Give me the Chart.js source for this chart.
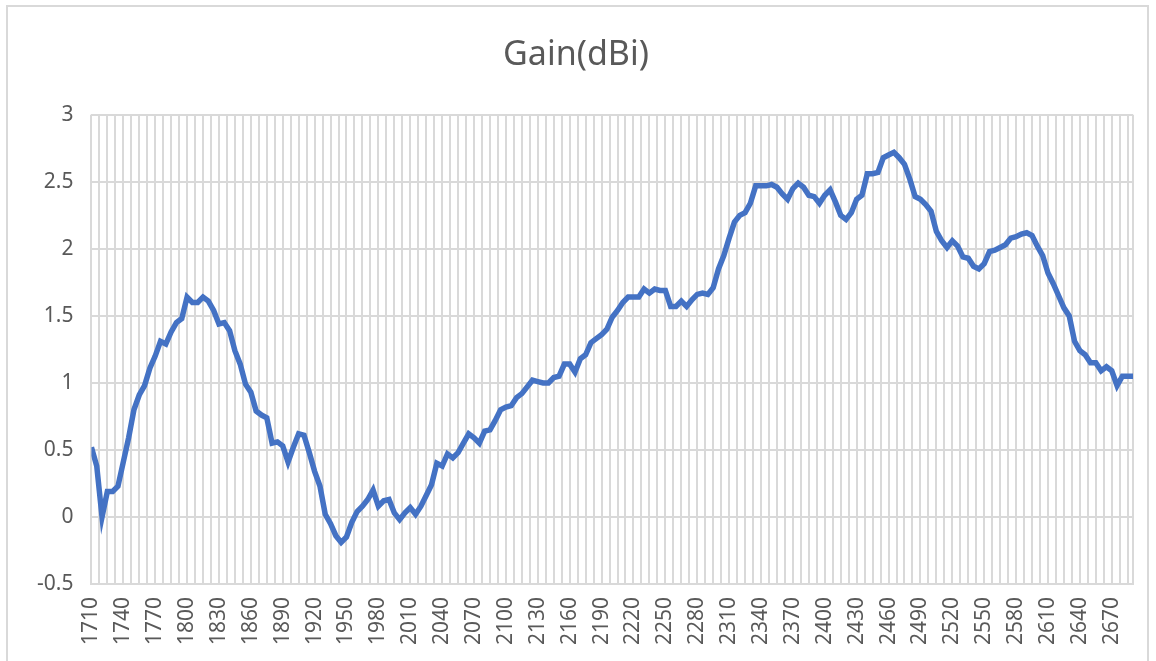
<!DOCTYPE html>
<html>
<head>
<meta charset="utf-8">
<script src="https://cdn.jsdelivr.net/npm/chart.js@4/dist/chart.umd.min.js"></script>
<style>
  body { margin: 0; background: #fff; }
  #wrap { width: 1156px; height: 661px; position: relative; }
</style>
</head>
<body>
<div id="wrap"><canvas id="gain-chart" width="1156" height="661"></canvas></div>
<script>
// frequency (MHz), 5 MHz step from 1710 to 2690
const freqStart = 1710;
const freqStep = 5;
const gain = [
  0.52, 0.38, 0.00, 0.19, 0.19, 0.23, 0.41, 0.59, 0.80, 0.91,   // 1710-1755
  0.98, 1.11, 1.20, 1.31, 1.29, 1.38, 1.45, 1.48, 1.64, 1.60,   // 1760-1805
  1.60, 1.64, 1.61, 1.54, 1.44, 1.45, 1.39, 1.24, 1.14, 0.99,   // 1810-1855
  0.93, 0.79, 0.76, 0.74, 0.55, 0.56, 0.53, 0.41, 0.52, 0.62,   // 1860-1905
  0.61, 0.48, 0.34, 0.23, 0.02, -0.05, -0.14, -0.19, -0.15, -0.04, // 1910-1955
  0.04, 0.08, 0.13, 0.20, 0.08, 0.12, 0.13, 0.03, -0.02, 0.03,  // 1960-2005
  0.07, 0.02, 0.08, 0.16, 0.24, 0.40, 0.38, 0.47, 0.44, 0.48,   // 2010-2055
  0.55, 0.62, 0.59, 0.55, 0.64, 0.65, 0.72, 0.80, 0.82, 0.83,   // 2060-2105
  0.89, 0.92, 0.97, 1.02, 1.01, 1.00, 1.00, 1.04, 1.05, 1.14,   // 2110-2155
  1.14, 1.08, 1.18, 1.21, 1.30, 1.33, 1.36, 1.40, 1.49, 1.54,   // 2160-2205
  1.60, 1.64, 1.64, 1.64, 1.70, 1.67, 1.70, 1.69, 1.69, 1.57,   // 2210-2255
  1.57, 1.61, 1.57, 1.62, 1.66, 1.67, 1.66, 1.71, 1.85, 1.95,   // 2260-2305
  2.08, 2.20, 2.25, 2.27, 2.34, 2.47, 2.47, 2.47, 2.48, 2.46,   // 2310-2355
  2.41, 2.37, 2.45, 2.49, 2.46, 2.40, 2.39, 2.34, 2.40, 2.44,   // 2360-2405
  2.35, 2.25, 2.22, 2.27, 2.37, 2.40, 2.56, 2.56, 2.57, 2.68,   // 2410-2455
  2.70, 2.72, 2.68, 2.63, 2.52, 2.39, 2.37, 2.33, 2.28, 2.13,   // 2460-2505
  2.06, 2.01, 2.06, 2.02, 1.94, 1.93, 1.87, 1.85, 1.89, 1.98,   // 2510-2555
  1.99, 2.01, 2.03, 2.08, 2.09, 2.11, 2.12, 2.10, 2.02, 1.95,   // 2560-2605
  1.82, 1.74, 1.65, 1.56, 1.50, 1.31, 1.24, 1.21, 1.15, 1.15,   // 2610-2655
  1.09, 1.12, 1.09, 0.98, 1.05, 1.05, 1.05                      // 2660-2690
];
const freqs = gain.map((g, i) => freqStart + i * freqStep);

// axis ticks
const xMin = 1710, xMax = 2690;
const gridStep = 7.5;      // vertical gridline spacing
const labelStep = 30;      // labelled every 30 MHz
const yTicks = [-0.5, 0, 0.5, 1, 1.5, 2, 2.5, 3];

const xGrid = [];
for (let v = xMin; v <= xMax; v += gridStep) xGrid.push(v);
xGrid.push(xMax);

const frame = {
  id: 'frame',
  afterDraw(chart) {
    const ctx = chart.ctx;
    ctx.save();
    ctx.strokeStyle = '#d9d9d9';
    ctx.lineWidth = 2;
    ctx.strokeRect(7, 6, 1141, 670);
    ctx.restore();
  }
};

new Chart('gain-chart', {
  type: 'line',
  data: {
    datasets: [{
      data: freqs.map((f, i) => ({ x: f, y: gain[i] })),
      borderColor: '#4472C4',
      borderWidth: 5.5,
      pointRadius: 0,
      tension: 0,
      fill: false
    }]
  },
  options: {
    responsive: false,
    animation: false,
    layout: { padding: { left: 19, right: 23, top: 0, bottom: 3 } },
    plugins: {
      legend: { display: false },
      tooltip: { enabled: false },
      title: {
        display: true,
        text: 'Gain(dBi)',
        color: '#595959',
        font: { family: 'Noto Sans', size: 34, weight: 'normal' },
        padding: { top: 35, bottom: 39 }
      }
    },
    scales: {
      x: {
        type: 'linear',
        min: xMin,
        max: xMax,
        afterBuildTicks: s => { s.ticks = xGrid.map(v => ({ value: v })); },
        afterFit: s => { s.paddingLeft = 0; s.paddingRight = 0; },
        grid: { color: '#d9d9d9', lineWidth: 2, drawTicks: false },
        border: { color: '#d9d9d9', width: 2 },
        ticks: {
          autoSkip: false,
          minRotation: 90,
          maxRotation: 90,
          padding: 13,
          color: '#595959',
          font: { family: 'Noto Sans', size: 21 },
          callback: v => ((v - xMin) % labelStep === 0 && v < xMax) ? String(v) : ''
        }
      },
      y: {
        min: -0.5,
        max: 3,
        afterBuildTicks: s => { s.ticks = yTicks.map(v => ({ value: v })); },
        grid: { color: '#d9d9d9', lineWidth: 2, drawTicks: false },
        border: { display: false },
        ticks: {
          padding: 18,
          color: '#595959',
          font: { family: 'Noto Sans', size: 21 },
          callback: v => String(v)
        }
      }
    }
  },
  plugins: [frame]
});
</script>
</body>
</html>
